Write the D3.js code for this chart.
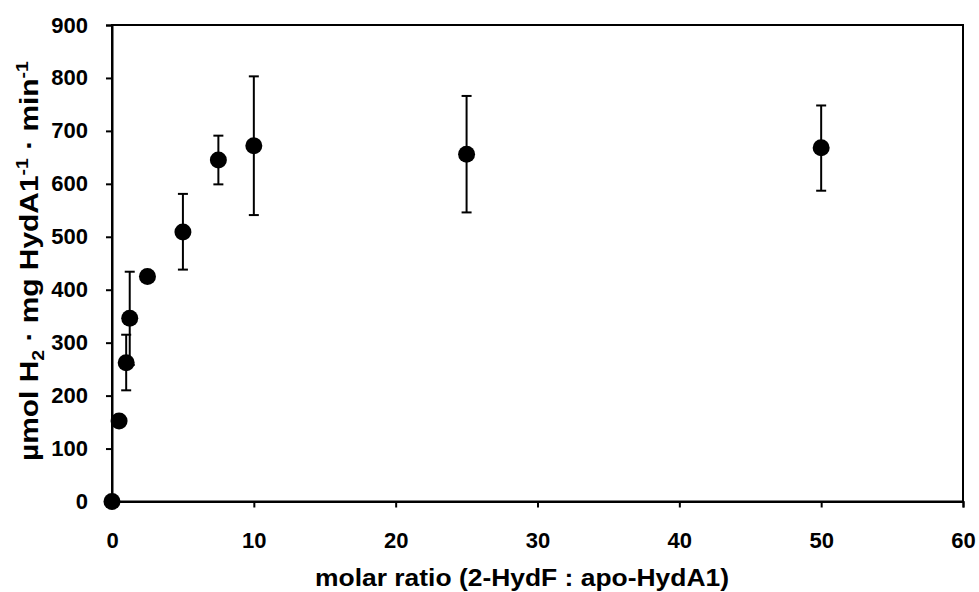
<!DOCTYPE html>
<html><head><meta charset="utf-8">
<script src="https://cdn.jsdelivr.net/npm/d3@7"></script>
<style>body{margin:0;background:#fff}</style>
</head><body>
<svg id="c" width="979" height="592"></svg>
<script>
const ratios = [0, 0.5, 1, 1.25, 2.5, 5, 7.5, 10, 25, 50];
const activity = [0, 152, 262, 346, 425, 509, 645, 672, 656, 668];
const errUp = [0, 0, 53, 88, 0, 72, 46, 131, 110, 80];
const errDown = [0, 0, 52, 88, 0, 71, 46, 131, 110, 81];
const xTicks = [0, 10, 20, 30, 40, 50, 60];
const yTicks = [0, 100, 200, 300, 400, 500, 600, 700, 800, 900];

const svg = d3.select("#c");
const L = 112, R = 963, T = 25, B = 501.5;
const x = d3.scaleLinear().domain([0, 60]).range([L, R]);
const y = d3.scaleLinear().domain([0, 900]).range([B, T]);
const font = "'Liberation Sans', Arial, sans-serif";

// frame
svg.append("rect").attr("x", L).attr("y", T).attr("width", R - L).attr("height", B - T)
  .attr("fill", "none").attr("stroke", "#000").attr("stroke-width", 2);

const xa = svg.append("g").attr("transform", `translate(0,${B})`)
  .call(d3.axisBottom(x).tickValues(xTicks).tickSize(6).tickPadding(25).tickFormat(d3.format("d")));
const ya = svg.append("g").attr("transform", `translate(${L},0)`)
  .call(d3.axisLeft(y).tickValues(yTicks).tickSize(6).tickPadding(18).tickFormat(d3.format("d")));
[xa, ya].forEach(a => {
  a.select(".domain").attr("stroke-width", 2);
  a.selectAll(".tick line").attr("stroke-width", 2);
  a.selectAll("text").attr("font-family", font).attr("font-weight", "bold")
    .attr("font-size", 22).attr("fill", "#000");
});

const data = ratios.map((r, i) => ({ r, v: activity[i], up: errUp[i], dn: errDown[i] }));
const eb = svg.append("g").attr("stroke", "#000").attr("stroke-width", 2);
data.filter(d => d.up > 0).forEach(d => {
  const cx = x(d.r);
  eb.append("line").attr("x1", cx).attr("x2", cx).attr("y1", y(d.v + d.up)).attr("y2", y(d.v - d.dn));
  eb.append("line").attr("x1", cx - 5).attr("x2", cx + 5).attr("y1", y(d.v + d.up)).attr("y2", y(d.v + d.up));
  eb.append("line").attr("x1", cx - 5).attr("x2", cx + 5).attr("y1", y(d.v - d.dn)).attr("y2", y(d.v - d.dn));
});
svg.append("g").selectAll("circle").data(data).join("circle")
  .attr("cx", d => x(d.r)).attr("cy", d => y(d.v)).attr("r", 8.5).attr("fill", "#000");

svg.append("text").attr("x", 522).attr("y", 586).attr("text-anchor", "middle")
  .attr("font-family", font).attr("font-weight", "bold").attr("font-size", 23)
  .attr("textLength", 414).attr("lengthAdjust", "spacingAndGlyphs")
  .text("molar ratio (2-HydF : apo-HydA1)");

const yt = svg.append("text").attr("transform", `translate(38,261) rotate(-90) scale(1.15,1)`)
  .attr("text-anchor", "middle").attr("font-family", font).attr("font-weight", "bold").attr("font-size", 26);
yt.append("tspan").text("µmol H");
yt.append("tspan").attr("font-size", 17).attr("dy", 6).text("2");
yt.append("tspan").attr("dy", -6).text(" · mg HydA1");
yt.append("tspan").attr("font-size", 17).attr("dy", -10).text("-1");
yt.append("tspan").attr("dy", 10).text(" · min");
yt.append("tspan").attr("font-size", 17).attr("dy", -10).text("-1");
</script>
</body></html>
